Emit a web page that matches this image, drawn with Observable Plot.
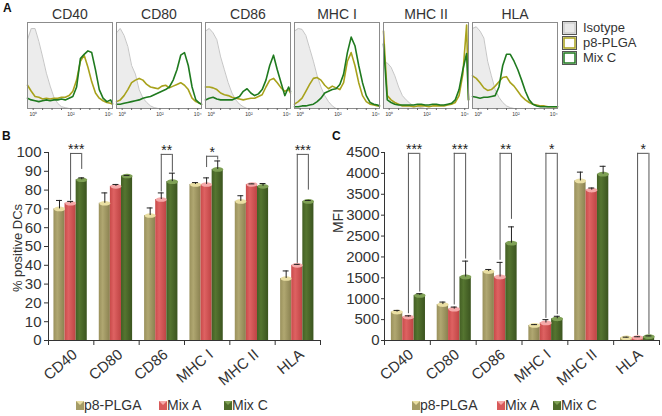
<!DOCTYPE html>
<html><head><meta charset="utf-8">
<script src="https://cdn.jsdelivr.net/npm/d3@7"></script>
<script src="https://cdn.jsdelivr.net/npm/@observablehq/plot@0.6"></script>
<style>
body{margin:0;background:#fff}
#fig{position:relative;width:662px;height:416px;overflow:hidden;font-family:"Liberation Sans",Arial,sans-serif;color:#333;background:#fff}
.abs{position:absolute}
.plab{position:absolute;font-weight:bold;font-size:12px;line-height:12px;color:#111}
.leg{position:absolute;white-space:nowrap;color:#333}
.ytitle{position:absolute;width:120px;height:14px;line-height:14px;text-align:center;transform:rotate(-90deg);color:#333;white-space:nowrap}
</style></head><body>
<svg width="0" height="0" style="position:absolute">
<defs>
<linearGradient id="g0" x1="0" x2="1" y1="0" y2="0"><stop offset="0" stop-color="#9a915c"/><stop offset="0.35" stop-color="#b0a771"/><stop offset="1" stop-color="#8a8150"/></linearGradient>
<linearGradient id="g1" x1="0" x2="1" y1="0" y2="0"><stop offset="0" stop-color="#c94a4a"/><stop offset="0.35" stop-color="#de6262"/><stop offset="1" stop-color="#bf4444"/></linearGradient>
<linearGradient id="g2" x1="0" x2="1" y1="0" y2="0"><stop offset="0" stop-color="#435f24"/><stop offset="0.35" stop-color="#557530"/><stop offset="1" stop-color="#3b541f"/></linearGradient>
</defs></svg>
<div id="fig">
  <div id="pa" class="abs" style="left:0;top:0"></div>
  <div id="pb" class="abs" style="left:0;top:130px"></div>
  <div id="pc" class="abs" style="left:331px;top:130px"></div>
  <div class="plab" style="left:3px;top:2px">A</div>
  <div class="plab" style="left:2px;top:130px">B</div>
  <div class="plab" style="left:332px;top:130px">C</div>
  <div id="titleB" class="ytitle" style="left:-42px;top:241px;font-size:13px"></div>
  <div id="titleC" class="ytitle" style="left:278px;top:214px;font-size:14px"></div>
  <svg class="abs" style="left:562px;top:21px" width="17" height="45">
    <rect x="0.5" y="0.5" width="14" height="13" fill="#e9e9e9" stroke="#555"/>
    <rect x="2" y="2" width="11" height="10" fill="none" stroke="#c8c8c8" stroke-width="1.2"/>
    <rect x="0.5" y="15.5" width="14" height="13" fill="#fff" stroke="#555"/>
    <rect x="2" y="17" width="11" height="10" fill="none" stroke="#a8a21c" stroke-width="1.5"/>
    <rect x="0.5" y="30.5" width="14" height="13" fill="#fff" stroke="#555"/>
    <rect x="2" y="32" width="11" height="10" fill="none" stroke="#1f7a1f" stroke-width="1.5"/>
  </svg>
  <div id="legA"></div>
  <div id="legB"></div>
  <div id="legC"></div>
</div>
<script>
const FONT = "'Liberation Sans', Arial, sans-serif";

// ---------- Panel A: flow cytometry histograms ----------
const markers = ["CD40", "CD80", "CD86", "MHC I", "MHC II", "HLA"];
const histLegend = ["Isotype", "p8-PLGA", "Mix C"];
const histX = [-0.3, -0.1, 0.1, 0.3, 0.5, 0.7, 0.9, 1.1, 1.3, 1.5, 1.7, 1.9, 2.1, 2.3, 2.5, 2.7, 2.9, 3.1, 3.3, 3.5, 3.7, 3.9, 4.1, 4.2];
const histTicks = [0, 2, 4];
const histTickLabels = ["10⁰", "10²", "10⁴"];
const histMinorTicks = [0, 0.5, 1, 1.5, 2, 2.5, 3, 3.5, 4];
const isotypeCurves = [
  [0.80,0.93,0.93,0.78,0.60,0.41,0.26,0.13,0.06,0.02,0.01,0,0,0,0,0,0,0,0,0,0,0,0,0],
  [0.88,0.93,0.85,0.72,0.50,0.40,0.22,0.12,0.07,0.03,0.01,0,0,0,0,0,0,0,0,0,0,0,0,0],
  [0.90,0.93,0.88,0.80,0.60,0.45,0.30,0.18,0.10,0.05,0.02,0,0,0,0,0,0,0,0,0,0,0,0,0],
  [0.90,0.93,0.92,0.85,0.70,0.55,0.38,0.25,0.15,0.08,0.03,0,0,0,0,0,0,0,0,0,0,0,0,0],
  [0.53,0.53,0.48,0.38,0.25,0.15,0.10,0.06,0.03,0.02,0.01,0,0,0,0,0,0,0,0,0,0,0,0,0],
  [0.93,0.95,0.90,0.82,0.55,0.38,0.22,0.13,0.07,0.03,0.01,0,0,0,0,0,0,0,0,0,0,0,0,0]
];
const p8Curves = [
  [0.27,0.20,0.14,0.13,0.11,0.12,0.11,0.12,0.12,0.13,0.13,0.15,0.20,0.33,0.55,0.62,0.48,0.31,0.18,0.12,0.09,0.07,0.06,0.05],
  [0.08,0.10,0.15,0.22,0.30,0.33,0.35,0.33,0.28,0.25,0.24,0.23,0.26,0.27,0.24,0.26,0.28,0.30,0.27,0.22,0.12,0.08,0.06,0.05],
  [0.25,0.25,0.24,0.22,0.18,0.16,0.15,0.13,0.12,0.11,0.10,0.11,0.12,0.12,0.14,0.16,0.25,0.33,0.35,0.30,0.24,0.20,0.22,0.18],
  [0.05,0.08,0.12,0.20,0.28,0.35,0.36,0.33,0.27,0.23,0.26,0.24,0.22,0.30,0.55,0.65,0.50,0.30,0.15,0.08,0.05,0.04,0.03,0.03],
  [0.90,0.15,0.10,0.07,0.05,0.03,0.03,0.03,0.02,0.03,0.03,0.03,0.02,0.03,0.03,0.03,0.03,0.04,0.05,0.07,0.15,0.40,0.97,0.10],
  [0.38,0.35,0.30,0.24,0.21,0.22,0.26,0.31,0.36,0.37,0.30,0.26,0.20,0.14,0.10,0.07,0.05,0.04,0.03,0.03,0.02,0.02,0.02,0.02]
];
const mixCCurves = [
  [0.12,0.10,0.09,0.08,0.09,0.10,0.09,0.10,0.10,0.11,0.10,0.12,0.14,0.25,0.58,0.63,0.67,0.65,0.45,0.22,0.12,0.08,0.10,0.06],
  [0.05,0.05,0.06,0.07,0.08,0.09,0.10,0.12,0.13,0.14,0.16,0.18,0.20,0.22,0.25,0.33,0.45,0.62,0.65,0.50,0.25,0.10,0.06,0.05],
  [0.10,0.12,0.13,0.11,0.10,0.10,0.10,0.10,0.12,0.14,0.20,0.23,0.18,0.15,0.17,0.22,0.33,0.50,0.62,0.45,0.30,0.15,0.25,0.20],
  [0.02,0.02,0.03,0.03,0.04,0.05,0.08,0.12,0.18,0.20,0.22,0.23,0.28,0.40,0.65,0.83,0.73,0.50,0.30,0.15,0.07,0.05,0.04,0.03],
  [0.75,0.10,0.07,0.05,0.04,0.04,0.04,0.04,0.04,0.05,0.05,0.04,0.04,0.05,0.05,0.04,0.04,0.05,0.06,0.10,0.22,0.45,0.64,0.10],
  [0.14,0.13,0.12,0.13,0.13,0.14,0.15,0.25,0.50,0.63,0.63,0.55,0.45,0.33,0.20,0.10,0.05,0.03,0.02,0.02,0.02,0.02,0.02,0.02]
];

// ---------- Panels B & C: bar charts ----------
const cats = ["CD40", "CD80", "CD86", "MHC I", "MHC II", "HLA"];
const series = ["p8-PLGA", "Mix A", "Mix C"];

const pctP8 = [70, 73, 66.5, 83, 74, 33];
const pctMixA = [73, 82, 75, 83, 83, 40];
const pctMixC = [85.5, 87.5, 84.5, 91, 82, 74];
const pctP8Err = [4.5, 5.5, 4, 1, 3, 4];
const pctMixAErr = [1, 1, 3.5, 3.5, 0.3, 0.5];
const pctMixCErr = [1, 0.3, 4.5, 4.5, 1.5, 0.5];
const pctTicks = [0, 10, 20, 30, 40, 50, 60, 70, 80, 90, 100];
const pctTitle = "% positive DCs";
const pctBrCats = ["CD40", "CD86", "MHC I", "HLA"];
const pctBrLabels = ["***", "**", "*", "***"];
const pctBrTop = [99.5, 99, 98, 99];
const pctBrLowLeft = [74.5, 79, 92, 41];
const pctBrLowRight = [91, 89.5, 96, 80];

const mfiP8 = [680, 860, 1650, 360, 3820, 60];
const mfiMixA = [560, 750, 1520, 420, 3600, 70];
const mfiMixC = [1080, 1520, 2330, 520, 3980, 90];
const mfiP8Err = [40, 60, 50, 20, 210, 20];
const mfiMixAErr = [30, 50, 350, 80, 50, 20];
const mfiMixCErr = [40, 380, 390, 60, 190, 20];
const mfiTicks = [0, 500, 1000, 1500, 2000, 2500, 3000, 3500, 4000, 4500];
const mfiTitle = "MFI";
const mfiBrCats = ["CD40", "CD80", "CD86", "MHC I", "HLA"];
const mfiBrLabels = ["***", "***", "**", "*", "*"];
const mfiBrTop = [4480, 4480, 4480, 4480, 4480];
const mfiBrLowLeft = [640, 850, 1920, 530, 120];
const mfiBrLowRight = [1160, 1950, 2900, 620, 140];

const barFills = ["url(#g0)", "url(#g1)", "url(#g2)"];
const capFills = ["#eadfa3", "#f5a9a9", "#7fa155"];
const legendSwatch = ["#a59c66", "#d85a5a", "#4d6b2a"];

// ---------- Panel A render ----------
const histRows = [];
markers.forEach((m, k) => histX.forEach((x, i) => {
  histRows.push({marker: m, x, iso: isotypeCurves[k][i], p8: p8Curves[k][i], mixC: mixCCurves[k][i]});
}));

const plotA = Plot.plot({
  width: 662, height: 120,
  marginLeft: 26, marginRight: 104, marginTop: 22, marginBottom: 12,
  fx: {domain: markers, paddingInner: 0.045, paddingOuter: 0, axis: null},
  x: {domain: [-0.3, 4.2]},
  y: {domain: [0, 1], axis: null},
  style: {fontFamily: FONT, color: "#333", background: "transparent", overflow: "visible"},
  marks: [
    Plot.areaY(histRows, {fx: "marker", x: "x", y: "iso", fill: "#ececec"}),
    Plot.lineY(histRows, {fx: "marker", x: "x", y: "iso", stroke: "#c6c6c6", strokeWidth: 1}),
    Plot.lineY(histRows, {fx: "marker", x: "x", y: "p8", stroke: "#a8a21c", strokeWidth: 1.6}),
    Plot.lineY(histRows, {fx: "marker", x: "x", y: "mixC", stroke: "#1f7a1f", strokeWidth: 1.6}),
    Plot.frame({stroke: "#8c8c8c"}),
    Plot.axisX({ticks: histMinorTicks, tickSize: 2, tickFormat: () => "", label: null, stroke: "#666"}),
    Plot.axisX({ticks: histTicks, tickSize: 0, tickPadding: 4, tickFormat: d => histTickLabels[histTicks.indexOf(d)], fontSize: 5, label: null}),
    Plot.text(markers, {fx: d => d, text: d => d, frameAnchor: "top", dy: -13, fontSize: 14, fill: "#333"})
  ]
});
document.getElementById("pa").append(plotA);

// legend A
document.getElementById("legA").innerHTML = histLegend.map((t, i) =>
  `<div class="leg" style="left:583px;top:${21 + i * 15}px;font-size:13px;line-height:14px">${t}</div>`).join("");

// ---------- bar panel builder ----------
const ellipse = {
  draw(ctx, size) {
    const rx = Math.sqrt(size / Math.PI), ry = rx * 0.42, k = 0.5523;
    ctx.moveTo(rx, 0);
    ctx.bezierCurveTo(rx, ry * k, rx * k, ry, 0, ry);
    ctx.bezierCurveTo(-rx * k, ry, -rx, ry * k, -rx, 0);
    ctx.bezierCurveTo(-rx, -ry * k, -rx * k, -ry, 0, -ry);
    ctx.bezierCurveTo(rx * k, -ry, rx, -ry * k, rx, 0);
    ctx.closePath();
  }
};

function barPanel(cfg) {
  const rows = [];
  cats.forEach((c, i) => series.forEach((s, j) => rows.push({cat: c, i, j, s, v: cfg.values[j][i], e: cfg.errs[j][i]})));
  const off = cfg.off, bw = cfg.bw, tw = cfg.tw;
  const cx = d => d.i + off + (d.j + 0.5) * bw;
  const bx = (d, j) => d.i + off + (j + 0.5) * bw;
  const brs = cfg.brCats.map((c, k) => ({i: cats.indexOf(c), top: cfg.brTop[k], lowL: cfg.brLowL[k], lowR: cfg.brLowR[k], label: cfg.brLabels[k]}));
  const boundaries = cats.map((c, i) => i).concat([cats.length]);
  const centers = cats.map((c, i) => i + 0.5);
  return Plot.plot({
    width: 331, height: 250,
    marginLeft: cfg.ml, marginRight: cfg.mr, marginTop: 22, marginBottom: 40,
    x: {domain: [0, cats.length]},
    y: {domain: [0, cfg.ymax]},
    style: {fontFamily: FONT, color: "#333", background: "transparent", overflow: "visible"},
    marks: [
      ...series.map((s, j) => Plot.rectY(rows.filter(d => d.j === j), {
        x1: d => d.i + off + d.j * bw, x2: d => d.i + off + (d.j + 1) * bw, y: "v", fill: barFills[j]
      })),
      ...series.map((s, j) => Plot.dot(rows.filter(d => d.j === j), {
        x: cx, y: "v", r: bw * cfg.pxPerUnit / 2, symbol: ellipse, fill: capFills[j]
      })),
      Plot.ruleX(rows, {x: cx, y1: "v", y2: d => d.v + d.e, stroke: "#222", strokeWidth: 1}),
      Plot.ruleY(rows, {y: d => d.v + d.e, x1: d => cx(d) - tw, x2: d => cx(d) + tw, stroke: "#222", strokeWidth: 1}),
      Plot.ruleX(brs, {x: d => bx(d, 1), y1: "lowL", y2: "top", stroke: "#555", strokeWidth: 1}),
      Plot.ruleX(brs, {x: d => bx(d, 2), y1: "lowR", y2: "top", stroke: "#555", strokeWidth: 1}),
      Plot.ruleY(brs, {y: "top", x1: d => bx(d, 1), x2: d => bx(d, 2), stroke: "#555", strokeWidth: 1}),
      Plot.text(brs, {x: d => (bx(d, 1) + bx(d, 2)) / 2, y: "top", text: "label", lineAnchor: "bottom", dy: 1, fontSize: 14, fill: "#222"}),
      Plot.ruleX([0], {stroke: "#333"}),
      Plot.ruleY([0], {stroke: "#333"}),
      Plot.axisY({ticks: cfg.yTicks, tickSize: cfg.tickSize, tickPadding: cfg.tickPadding, tickFormat: d => String(d), fontSize: 15, label: null, stroke: "#333"}),
      Plot.axisX({ticks: boundaries, tickSize: 5, tickFormat: () => "", label: null, stroke: "#333"}),
      Plot.axisX({ticks: centers, tickSize: 0, tickPadding: 4, tickFormat: d => cats[Math.floor(d)], tickRotate: -40, fontSize: 15, label: null, dx: 4, dy: 8})
    ]
  });
}

const plotB = barPanel({
  values: [pctP8, pctMixA, pctMixC], errs: [pctP8Err, pctMixAErr, pctMixCErr],
  ymax: 100, yTicks: pctTicks, ml: 48, mr: 11, off: 0.12, bw: 0.245, tw: 0.065, pxPerUnit: 45.3,
  tickSize: 4, tickPadding: 3,
  brCats: pctBrCats, brLabels: pctBrLabels, brTop: pctBrTop, brLowL: pctBrLowLeft, brLowR: pctBrLowRight
});
document.getElementById("pb").append(plotB);
document.getElementById("titleB").textContent = pctTitle;

const plotC = barPanel({
  values: [mfiP8, mfiMixA, mfiMixC], errs: [mfiP8Err, mfiMixAErr, mfiMixCErr],
  ymax: 4500, yTicks: mfiTicks, ml: 53, mr: 3, off: 0.15, bw: 0.248, tw: 0.065, pxPerUnit: 45.8,
  tickSize: 3, tickPadding: 2,
  brCats: mfiBrCats, brLabels: mfiBrLabels, brTop: mfiBrTop, brLowL: mfiBrLowLeft, brLowR: mfiBrLowRight
});
document.getElementById("pc").append(plotC);
document.getElementById("titleC").textContent = mfiTitle;

// legends B & C
function barLegend(id, xs) {
  document.getElementById(id).innerHTML = series.map((s, j) =>
    `<svg class="abs" style="left:${xs[j]}px;top:401px" width="8" height="9">
       <rect x="0" y="0" width="8" height="9" fill="${legendSwatch[j]}"/>
       <polygon points="0,0 8,0 4,4" fill="${capFills[j]}"/>
     </svg>
     <div class="leg" style="left:${xs[j] + 8}px;top:397px;font-size:14px;line-height:16px">${s}</div>`).join("");
}
barLegend("legB", [76, 159, 224]);
barLegend("legC", [412, 497, 553]);
</script>
</body></html>
